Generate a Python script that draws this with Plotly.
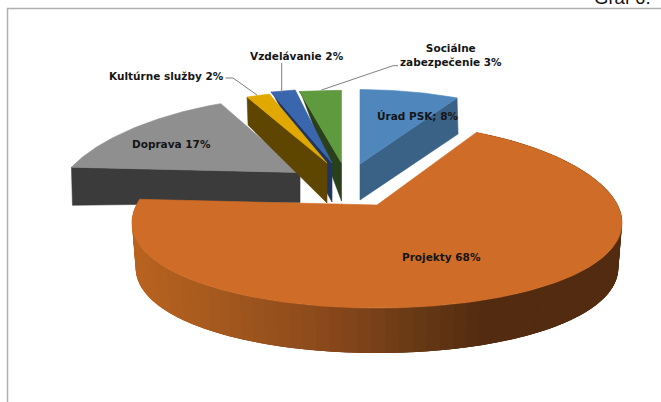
import math
import plotly.graph_objects as go

# Budget shares in percent, clockwise from twelve o'clock
categories = ["Úrad PSK", "Projekty", "Doprava", "Kultúrne služby", "Vzdelávanie", "Sociálne zabezpečenie"]
shares = [8, 68, 17, 2, 2, 3]

WIDTH, HEIGHT = 661, 402

# Per-slice projection: exploded apex, radii, perspective and side colours
GEOMETRY = {
    "Úrad PSK": dict(apex=(360, 164), rx=235, ry=83, kx=0.19, top="#4F87BD", side="#3A6287", edge="end", near=36, far=36),
    "Projekty": dict(apex=(377, 205), rx=240.6, ry=91.2, kx=0.19, top="#CF6C27"),
    "Doprava": dict(apex=(300, 172.5), rx=233, ry=84, kx=0.28, top="#8F8F8F", side="#3B3B3B", edge="start", near=30, far=38),
    "Kultúrne služby": dict(apex=(327, 163), rx=220, ry=80.5, kx=0.19, top="#E0A800", side="#5E4500", edge="start", near=40, far=28),
    "Vzdelávanie": dict(apex=(332, 163), rx=233, ry=82.7, kx=0.19, top="#3A66AD", side="#1E3560", edge="start", near=39, far=0),
    "Sociálne zabezpečenie": dict(apex=(341.5, 163), rx=266, ry=81, kx=0.19, top="#5F9A3F", side="#2A401A", edge="start", near=38, far=0),
}
KY = 0.115
DRAW_ORDER = ["Doprava", "Sociálne zabezpečenie", "Vzdelávanie", "Kultúrne služby", "Úrad PSK", "Projekty"]

# Outer wall of the large slice, shaded from left to right
WALL_DROP, WALL_TAPER, WALL_BANDS = 45, 0.985, 90
WALL_STOPS = [(135, (184, 98, 31)), (200, (166, 90, 30)), (330, (133, 69, 26)), (400, (104, 58, 22)), (470, (83, 43, 16)), (625, (83, 43, 16))]

LEADER_COLOR = "#7F7F7F"
FRAME_COLOR = "#B0B0B0"

LABELS = {
    "Úrad PSK": (417.5, 116, "Úrad PSK; {}%"),
    "Projekty": (441, 257, "Projekty {}%"),
    "Doprava": (171, 143.5, "Doprava {}%"),
    "Kultúrne služby": (166.5, 75.5, "Kultúrne služby {}%"),
    "Vzdelávanie": (296.5, 56, "Vzdelávanie {}%"),
    "Sociálne zabezpečenie": (451, 55, "Sociálne<br>zabezpečenie {}%"),
}
LEADERS = [
    ([225.5, 233, 257], [78, 78, 95]),
    ([281.7, 281.7], [63, 92.5]),
    ([398, 393, 321.5], [65.7, 65.7, 90]),
]
FRAME = ([7.5, 7.5, 661], [402, 8.5, 8.5])


def project(g, theta, r=1.0):
    """Screen position of a point at the given pie angle and radial fraction."""
    u, v = math.sin(math.radians(theta)), math.cos(math.radians(theta))
    ax, ay = g["apex"]
    return ax + r * g["rx"] * u / (1 + g["kx"] * v), ay - r * g["ry"] * v / (1 + KY * v)


def polygon(xs, ys, color, edge_width=0.6):
    return go.Scatter(x=xs, y=ys, mode="lines", fill="toself", fillcolor=color,
                      line=dict(color=color, width=edge_width), hoverinfo="skip", showlegend=False)


def wall_color(x):
    for (x0, c0), (x1, c1) in zip(WALL_STOPS, WALL_STOPS[1:]):
        if x <= x1:
            t = max(0.0, (x - x0) / (x1 - x0))
            return "rgb({},{},{})".format(*(round(a + (b - a) * t) for a, b in zip(c0, c1)))
    return "rgb({},{},{})".format(*WALL_STOPS[-1][1])


# Cumulative sweep of every slice, in degrees
sweeps = {}
angle = 0.0
for name, share in zip(categories, shares):
    sweeps[name] = (angle, angle + share * 3.6)
    angle += share * 3.6

fig = go.Figure()

for name in DRAW_ORDER:
    g = GEOMETRY[name]
    start, end = sweeps[name]
    steps = max(6, int(end - start))
    thetas = [start + (end - start) * i / steps for i in range(steps + 1)]
    ax, ay = g["apex"]

    if "side" in g:
        fx, fy = project(g, start if g["edge"] == "start" else end)
        fig.add_trace(polygon([fx, ax, ax, fx + 1, fx], [fy, ay, ay + g["near"], fy + g["far"], fy], g["side"]))
    else:
        # Wide overlapping bands, painted from the left end of the wall to the right end
        band = (end - start) / WALL_BANDS
        for i in range(WALL_BANDS, 0, -1):
            arc_thetas = [end - band * (i + 1) + band * j / 4 for j in range(13)]
            arc_thetas = [min(end, max(start, t)) for t in arc_thetas]
            pts = [project(g, t) for t in arc_thetas]
            low = [(ax + (x - ax) * WALL_TAPER, y + WALL_DROP) for x, y in pts]
            outline = pts + low[::-1] + pts[:1]
            mid = project(g, end - band * (i - 0.5))
            fig.add_trace(polygon([p[0] for p in outline], [p[1] for p in outline],
                                  wall_color(mid[0]), edge_width=0))

    arc = [project(g, t) for t in thetas]
    fig.add_trace(polygon([ax] + [p[0] for p in arc] + [ax], [ay] + [p[1] for p in arc] + [ay], g["top"]))

for xs, ys in LEADERS:
    fig.add_trace(go.Scatter(x=xs, y=ys, mode="lines", line=dict(color=LEADER_COLOR, width=1),
                             hoverinfo="skip", showlegend=False))
fig.add_trace(go.Scatter(x=FRAME[0], y=FRAME[1], mode="lines", line=dict(color=FRAME_COLOR, width=1.5),
                         hoverinfo="skip", showlegend=False))

for name, share in zip(categories, shares):
    x, y, template = LABELS[name]
    fig.add_annotation(x=x, y=y, xref="x", yref="y", text="<b>" + template.format(share) + "</b>",
                       showarrow=False, font=dict(family="DejaVu Sans", size=10.5, color="#151515"),
                       xanchor="center", yanchor="middle", align="center")

fig.add_annotation(x=652 / WIDTH, y=1 - 8.5 / HEIGHT, xref="paper", yref="paper", text="Graf 6.",
                   showarrow=False, font=dict(family="Liberation Sans", size=18.5, color="#111111"),
                   xanchor="right", yanchor="bottom", borderpad=0)

fig.update_layout(
    width=WIDTH, height=HEIGHT, margin=dict(l=0, r=0, t=0, b=0),
    paper_bgcolor="white", plot_bgcolor="white", showlegend=False,
    xaxis=dict(range=[0, WIDTH], visible=False, fixedrange=True),
    yaxis=dict(range=[HEIGHT, 0], visible=False, fixedrange=True),
)

fig.write_html("out.html", config=dict(displayModeBar=False))
